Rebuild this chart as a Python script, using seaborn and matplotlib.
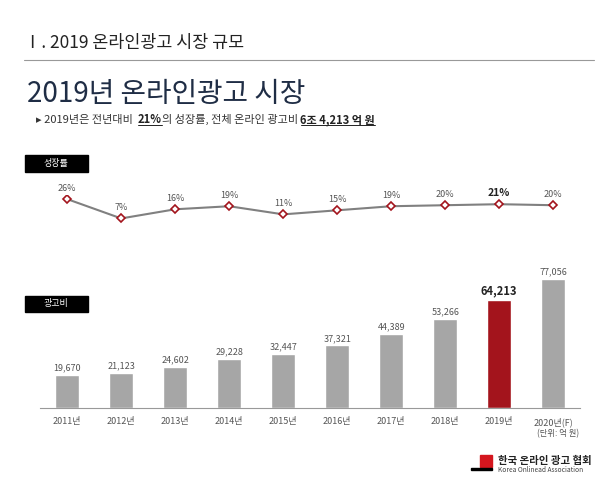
import pandas as pd
import matplotlib.pyplot as plt
import seaborn as sns
from matplotlib.patches import Rectangle

sns.set_style("white")
plt.rcParams['font.family'] = ['Noto Sans CJK KR', 'DejaVu Sans']

# Данные с картинки
years = ['2011년', '2012년', '2013년', '2014년', '2015년', '2016년', '2017년', '2018년', '2019년', '2020년(F)']
spend = [19670, 21123, 24602, 29228, 32447, 37321, 44389, 53266, 64213, 77056]
growth = [26, 7, 16, 19, 11, 15, 19, 20, 21, 20]

df = pd.DataFrame({'year': years, 'spend': spend, 'growth': growth})
colors = ['#a6a6a6'] * 8 + ['#a3141c', '#a6a6a6']

fig = plt.figure(figsize=(6, 4.84), dpi=100)

# Заголовки
fig.text(0.04, 0.9, 'Ⅰ. 2019 온라인광고 시장 규모', fontsize=12.5, color='#222222')
fig.add_artist(plt.Line2D([0.04, 0.99], [0.877, 0.877], color='#999999', lw=0.8))
fig.text(0.045, 0.79, '2019년 온라인광고 시장', fontsize=20, color='#1f2d45')

# Подзаголовок по кусочкам (жирные части подчеркнуты)
parts = [('▸ 2019년은 전년대비  ', False), ('21%', True), ('의 성장률, 전체 온라인 광고비 ', False),
         ('6조 4,213 억 원', True)]
pieces = []
for txt, bold in parts:
    t = fig.text(0, 0, txt, fontsize=8, color='#222222' if bold else '#333333',
                 fontweight='bold' if bold else 'normal')
    pieces.append(t)
fig.canvas.draw()
x = 0.06
for (txt, bold), t in zip(parts, pieces):
    t.set_position((x, 0.745))
    w = t.get_window_extent().width / fig.bbox.width
    if bold:
        fig.add_artist(plt.Line2D([x, x + w], [0.741, 0.741], color='#222222', lw=0.7))
    x += w

# Черные плашки
for y0, label in [(0.645, '성장률'), (0.355, '광고비')]:
    fig.add_artist(Rectangle((0.042, y0), 0.105, 0.034, transform=fig.transFigure, color='black'))
    fig.text(0.094, y0 + 0.017, label, color='white', fontsize=6.5, ha='center', va='center')

# Линия роста
ax1 = fig.add_axes([0.067, 0.534, 0.9, 0.063])
sns.lineplot(x=range(len(years)), y=df['growth'], ax=ax1, color='#808080', lw=1.5,
             marker='D', markersize=4, markerfacecolor='white', markeredgecolor='#a3141c', markeredgewidth=1.2)
for i, g in enumerate(growth):
    ax1.text(i, g + 6, f'{g}%', ha='center', va='bottom', fontsize=6.5 if i != 8 else 7.5,
             fontweight='bold' if i == 8 else 'normal', color='#555555' if i != 8 else '#222222')
ax1.set_xlim(-0.5, len(years) - 0.5)
ax1.set_ylim(0, 30)
ax1.axis('off')

# Столбцы
ax2 = fig.add_axes([0.067, 0.157, 0.9, 0.312])
sns.barplot(data=df, x='year', y='spend', hue='year', palette=colors, legend=False,
            width=0.45, saturation=1, ax=ax2)
for i, v in enumerate(spend):
    ax2.text(i, v + 1500, f'{v:,}', ha='center', va='bottom', fontsize=6.5 if i != 8 else 8,
             fontweight='bold' if i == 8 else 'normal', color='#555555' if i != 8 else '#222222')
ax2.set_ylim(0, 90000)
ax2.set_xlim(-0.5, len(years) - 0.5)
ax2.set_xlabel('')
ax2.set_ylabel('')
ax2.set_yticks([])
ax2.tick_params(axis='x', labelsize=6.5, colors='#555555', length=3, color='#999999')
for s in ['top', 'right', 'left']:
    ax2.spines[s].set_visible(False)
ax2.spines['bottom'].set_color('#999999')
fig.text(0.965, 0.098, '(단위: 억 원)', ha='right', fontsize=6, color='#555555')

# Логотип
fig.add_artist(Rectangle((0.8, 0.035), 0.02, 0.025, transform=fig.transFigure, color='#d4161e'))
fig.add_artist(Rectangle((0.785, 0.028), 0.035, 0.006, transform=fig.transFigure, color='black'))
fig.text(0.83, 0.042, '한국 온라인 광고 협회', fontsize=7.5, fontweight='bold', color='#222222')
fig.text(0.83, 0.024, 'Korea Onlinead Association', fontsize=4.8, color='#444444')

plt.savefig("out.png", dpi=100)
